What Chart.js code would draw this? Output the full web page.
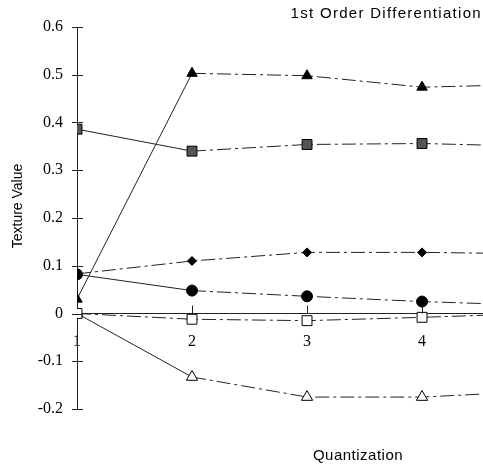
<!DOCTYPE html>
<html>
<head>
<meta charset="utf-8">
<script src="https://cdn.jsdelivr.net/npm/chart.js@4/dist/chart.umd.min.js"></script>
<style>
  html, body { margin: 0; padding: 0; background: #fff; }
  #wrap { width: 483px; height: 468px; position: relative; }
</style>
</head>
<body>
<div id="wrap"><canvas id="c"></canvas></div>
<script>
// ── Data (x = quantization level, last point runs off the right edge) ──
const quant        = [1, 2, 3, 4, 5];
const filledTri    = [0.030, 0.503, 0.498, 0.474, 0.480];
const texturedSq   = [0.386, 0.340, 0.354, 0.356, 0.350];
const filledDia    = [0.083, 0.110, 0.128, 0.128, 0.125];
const filledCirc   = [0.082, 0.048, 0.036, 0.025, 0.017];
const openSq       = [0.000, -0.012, -0.015, -0.008, 0.000];
const openTri      = [0.000, -0.133, -0.175, -0.175, -0.163];
const yTicks       = [-0.2, -0.1, 0, 0.1, 0.2, 0.3, 0.4, 0.5, 0.6];
const xTicks       = [1, 2, 3, 4];

const pts = arr => arr.map((v, i) => ({ x: quant[i], y: v }));
const dashDot = [14, 4, 3, 4];

function series(label, data, style, fill, radius, firstSolid) {
    return {
        label: label,
        data: pts(data),
        borderColor: '#222',
        borderWidth: 1,
        pointStyle: style,
        pointRadius: radius,
        pointBackgroundColor: fill,
        pointBorderColor: '#000',
        pointBorderWidth: 1,
        tension: 0,
        segment: {
            borderDash: ctx => (firstSolid && ctx.p0DataIndex === 0) ? [] : dashDot
        }
    };
}

// ── Tick marks + free texts ──
const decor = {
    id: 'decor',
    afterDraw(chart) {
        const { ctx, scales: { x, y } } = chart;
        ctx.save();
        ctx.strokeStyle = '#222';
        ctx.lineWidth = 1;
        const ax = x.getPixelForValue(1);
        yTicks.forEach(v => {
            const py = Math.round(y.getPixelForValue(v)) + 0.5;
            ctx.beginPath();
            ctx.moveTo(ax - 5, py);
            ctx.lineTo(ax + 6, py);
            ctx.stroke();
        });
        const y0 = y.getPixelForValue(0);
        xTicks.slice(1).forEach(v => {
            const px = Math.round(x.getPixelForValue(v)) + 0.5;
            ctx.beginPath();
            ctx.moveTo(px, y0 - 8);
            ctx.lineTo(px, y0);
            ctx.stroke();
        });

        ctx.fillStyle = '#000';
        ctx.font = '15px "Liberation Sans", Arial, sans-serif';
        ctx.textAlign = 'right';
        ctx.textBaseline = 'middle';
        ctx.letterSpacing = '1.3px';
        ctx.fillText('1st Order Differentiation', 482, 14);

        ctx.textAlign = 'center';
        ctx.letterSpacing = '0.5px';
        ctx.fillText('Quantization', 358, 456);

        ctx.font = '14px "Liberation Sans", Arial, sans-serif';
        ctx.letterSpacing = '0px';
        ctx.translate(18, 206);
        ctx.rotate(-Math.PI / 2);
        ctx.fillText('Texture Value', 0, 0);
        ctx.restore();
    }
};

new Chart(document.getElementById('c'), {
    type: 'line',
    data: {
        datasets: [
            series('Filled triangle', filledTri, 'triangle', '#000', 6, true),
            series('Textured square', texturedSq, 'rect', '#555', 7, true),
            series('Diamond', filledDia, 'rectRot', '#000', 4.5, false),
            series('Circle', filledCirc, 'circle', '#000', 5.5, true),
            series('Open square', openSq, 'rect', '#fff', 7, false),
            series('Open triangle', openTri, 'triangle', '#fff', 6.5, true)
        ]
    },
    options: {
        responsive: true,
        maintainAspectRatio: false,
        animation: false,
        events: [],
        layout: { autoPadding: false, padding: { top: 27, bottom: 59, left: 0, right: 0 } },
        plugins: {
            legend: { display: false },
            tooltip: { enabled: false }
        },
        scales: {
            x: {
                type: 'linear',
                position: { y: 0 },
                min: 1,
                max: 4.53,
                afterBuildTicks: s => { s.ticks = xTicks.map(v => ({ value: v })); },
                ticks: {
                    padding: 19,
                    color: '#000',
                    font: { family: '"Liberation Serif", "Times New Roman", serif', size: 16 },
                    maxRotation: 0
                },
                grid: { display: false, drawTicks: false },
                border: { display: true, color: '#222', width: 1 }
            },
            y: {
                min: -0.2,
                max: 0.6,
                afterFit: s => { s.width = 77; },
                afterBuildTicks: s => { s.ticks = yTicks.map(v => ({ value: v })); },
                ticks: {
                    padding: 14,
                    color: '#000',
                    font: { family: '"Liberation Serif", "Times New Roman", serif', size: 16 },
                    callback: v => (v === 0 ? '0' : String(Math.round(v * 10) / 10))
                },
                grid: { display: false, drawTicks: false },
                border: { display: true, color: '#222', width: 1 }
            }
        }
    },
    plugins: [decor]
});
</script>
</body>
</html>
